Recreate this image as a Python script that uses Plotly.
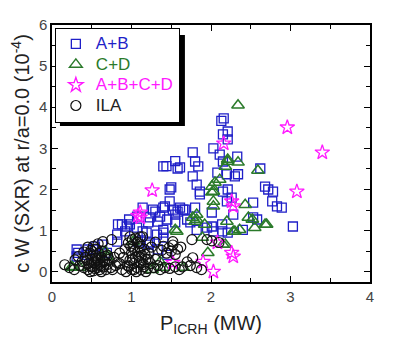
import plotly.graph_objects as go

# A+B (blue squares)
ab_x = [2.13, 2.16, 2.21, 2.15, 2.21, 2.03, 2.11, 2.33, 1.77, 1.80, 1.84, 1.61, 2.15, 2.30, 2.62, 2.08,
        1.77, 1.44, 1.55, 1.58, 1.50, 1.82, 1.86, 2.68, 2.72, 2.78, 2.21, 2.20, 2.34, 2.77, 2.83, 2.89,
        3.03, 2.26, 2.28, 2.53, 2.53, 1.65, 1.80, 1.70, 1.82, 2.01, 2.01, 2.03, 2.14, 2.14, 2.21, 2.40,
        2.58, 2.15, 2.20, 1.40, 1.14, 1.27, 1.42, 1.48, 1.61, 1.55, 1.36, 1.23, 1.07, 0.97, 0.83, 0.94,
        0.82, 0.82, 0.69, 0.52, 0.31, 0.31, 1.08, 1.21, 1.32, 1.40, 1.33, 1.45, 1.14, 1.67, 1.52, 1.58,
        1.40, 1.30, 1.21, 1.33, 1.45, 1.55, 1.74, 1.07, 1.40, 1.40, 1.19, 1.23, 1.95, 0.92, 0.88, 0.98,
        0.63, 0.54, 0.45, 0.33, 0.44, 1.86, 1.48]
ab_y = [3.67, 3.73, 3.41, 3.34, 3.22, 3.00, 2.85, 2.80, 2.90, 2.68, 2.56, 2.54, 2.68, 2.32, 2.51, 2.41,
        2.32, 2.57, 2.69, 2.51, 2.05, 2.12, 1.95, 2.07, 2.00, 1.95, 2.00, 2.37, 2.37, 1.71, 1.59, 1.56,
        1.10, 1.80, 1.39, 1.68, 1.32, 1.51, 1.56, 1.27, 1.02, 1.44, 1.10, 0.98, 1.15, 0.98, 0.95, 1.02,
        1.27, 1.95, 1.71, 2.56, 1.56, 1.51, 1.59, 1.71, 1.56, 1.39, 1.34, 1.32, 1.34, 1.27, 1.15, 1.10,
        0.90, 0.73, 0.46, 0.54, 0.54, 0.37, 0.73, 0.66, 0.90, 1.02, 0.54, 0.41, 0.98, 1.51, 1.51, 1.46,
        1.56, 1.46, 1.20, 1.22, 1.27, 1.20, 1.20, 1.07, 0.95, 0.83, 0.95, 0.71, 1.07, 0.98, 1.15, 1.15,
        0.66, 0.61, 0.54, 0.46, 0.41, 1.88, 2.00]

# C+D (green triangles)
cd_x = [2.34, 2.21, 2.34, 2.59, 2.21, 2.18, 2.11, 2.05, 2.01, 2.03, 2.01, 2.03, 2.03, 1.82, 1.80,
        2.43, 2.20, 2.47, 2.55, 2.70, 2.36, 2.28, 1.89, 2.15, 1.96, 1.65, 2.52, 2.30, 2.18, 1.82,
        1.57, 1.92, 1.40, 1.26, 1.55, 1.02, 0.69, 0.25, 0.35, 1.36, 1.77, 0.67, 0.26, 2.68]
cd_y = [4.05, 2.68, 2.66, 2.46, 2.73, 2.56, 2.24, 2.17, 2.07, 1.95, 1.93, 1.71, 1.59, 1.27, 1.22,
        1.63, 1.22, 1.32, 1.07, 1.15, 1.02, 0.98, 0.83, 0.66, 0.46, 0.10, 1.27, 0.98, 0.66, 1.39,
        0.98, 1.15, 0.10, 0.05, 1.02, 0.73, 0.37, 0.12, 0.10, 0.24, 1.32, 0.49, 0.10, 1.15]

# A+B+C+D (magenta stars)
all_x = [2.96, 3.40, 2.16, 3.08, 2.26, 2.28, 2.08, 2.26, 2.28, 1.90, 2.03, 1.26, 1.11, 1.08, 1.11, 1.52]
all_y = [3.51, 2.90, 3.12, 1.95, 1.71, 1.59, 0.71, 0.46, 0.37, 0.24, 0.00, 1.98, 1.44, 1.36, 1.32, 0.22]

# ILA (black circles)
ila_x = [0.38, 0.40, 0.42, 0.45, 0.46, 0.48, 0.50, 0.50, 0.52, 0.53, 0.55, 0.55, 0.57, 0.58, 0.60, 0.60,
         0.62, 0.63, 0.65, 0.66, 0.68, 0.70, 0.70, 0.72, 0.74, 0.45, 0.52, 0.40, 0.35, 0.58, 0.62, 0.48,
         0.85, 0.88, 0.90, 0.92, 0.95, 0.96, 0.98, 1.00, 1.00, 1.02, 1.03, 1.05, 1.05, 1.07, 1.08, 1.10,
         1.10, 1.12, 1.13, 1.15, 1.16, 1.18, 1.20, 1.22, 1.24, 0.98, 1.14, 0.93, 1.06, 1.18,
         0.76, 0.80, 0.82, 0.78, 0.85, 0.16, 0.22, 0.29, 0.28, 0.33, 0.64, 0.75, 1.01, 1.11,
         1.28, 1.33, 1.36, 1.42, 1.48, 1.55, 1.60, 1.64, 1.70, 1.74, 1.77, 1.82, 1.88, 1.30,
         1.38, 1.40, 1.44, 1.47, 1.50, 1.52, 1.55, 1.58, 1.62, 1.52, 1.76, 1.95, 2.01, 2.10, 1.25, 1.30,
         0.47, 0.51, 0.56, 0.59, 0.64, 0.67, 0.54, 0.61, 0.49, 0.57, 0.44,
         0.97, 1.01, 1.04, 1.09, 1.12, 1.17, 1.21, 0.99, 1.07, 1.15, 1.03, 1.11]
ila_y = [0.25, 0.10, 0.35, 0.05, 0.20, 0.45, 0.12, 0.30, 0.02, 0.22, 0.40, 0.55, 0.10, 0.28, 0.05, 0.18,
         0.35, 0.50, 0.12, 0.25, 0.05, 0.18, 0.40, 0.30, 0.10, 0.60, 0.62, 0.48, 0.15, 0.68, 0.00, 0.00,
         0.20, 0.05, 0.35, 0.55, 0.15, 0.70, 0.28, 0.05, 0.45, 0.60, 0.20, 0.82, 0.35, 0.10, 0.50, 0.25,
         0.68, 0.05, 0.40, 0.18, 0.55, 0.30, 0.08, 0.45, 0.20, 0.85, 0.85, 0.00, 0.00, 0.00,
         0.05, 0.15, 0.22, 0.35, 0.45, 0.17, 0.10, 0.29, 0.05, 0.37, 0.73, 0.78, 0.78, 0.85,
         0.10, 0.15, 0.05, 0.10, 0.08, 0.12, 0.05, 0.12, 0.24, 0.15, 0.34, 0.10, 0.05, 0.30,
         0.52, 0.62, 0.45, 0.58, 0.50, 0.65, 0.42, 0.55, 0.60, 0.73, 0.78, 0.78, 0.75, 0.71, 0.60, 0.72,
         0.15, 0.38, 0.20, 0.45, 0.28, 0.38, 0.08, 0.14, 0.52, 0.33, 0.28,
         0.12, 0.30, 0.52, 0.38, 0.22, 0.42, 0.30, 0.62, 0.72, 0.12, 0.05, 0.58]

BLUE = "#1f1fc8"
GREEN = "#2a7a2a"
MAGENTA = "#ff1aff"
BLACK = "#111111"

def lbl(text, color):
    return f"<span style='color:{color};font-size:17px'>{text}</span>"

fig = go.Figure()
fig.add_trace(go.Scatter(x=ab_x, y=ab_y, mode="markers", name=lbl("A+B", BLUE),
                         marker=dict(symbol="square-open", size=9, color=BLUE, line=dict(width=1.3))))
fig.add_trace(go.Scatter(x=cd_x, y=cd_y, mode="markers", name=lbl("C+D", GREEN),
                         marker=dict(symbol="triangle-up-open", size=11, color=GREEN, line=dict(width=1.5))))
fig.add_trace(go.Scatter(x=all_x, y=all_y, mode="markers", name=lbl("A+B+C+D", MAGENTA),
                         marker=dict(symbol="star-open", size=11, color=MAGENTA, line=dict(width=1.3))))
fig.add_trace(go.Scatter(x=ila_x, y=ila_y, mode="markers", name=lbl("ILA", "#222222"),
                         marker=dict(symbol="circle-open", size=10, color=BLACK, line=dict(width=1.2))))

axis_common = dict(showgrid=False, zeroline=False, showline=True, linecolor="black", linewidth=1.5,
                   mirror="allticks", ticks="inside", ticklen=6, tickwidth=1, tickcolor="black",
                   tickfont=dict(family="Liberation Sans, Arial", size=15, color="#444444"),
                   minor=dict(ticks="inside", ticklen=4, tickwidth=1, tickcolor="black", dtick=0.5))

fig.update_xaxes(range=[0, 4], dtick=1, **axis_common,
                 title=dict(text="P<sub>ICRH</sub> (MW)", standoff=12,
                            font=dict(family="Liberation Sans, Arial", size=20, color="#222222")))
fig.update_yaxes(range=[-0.25, 6], dtick=1, **axis_common,
                 title=dict(text="c W (SXR) at r/a=0.0 (10<sup>-4</sup>)", standoff=4,
                            font=dict(family="Liberation Sans, Arial", size=20, color="#222222")))

# legend drop shadow
fig.add_shape(type="rect", xref="paper", yref="paper", x0=0.025, x1=0.418, y0=0.607, y1=0.961,
              fillcolor="black", line=dict(width=0), layer="below")

fig.update_layout(
    width=393, height=344,
    margin=dict(l=52, r=23, t=25, b=62),
    plot_bgcolor="white", paper_bgcolor="white",
    showlegend=True,
    legend=dict(x=0.009, y=0.99, xanchor="left", yanchor="top", bgcolor="white",
                bordercolor="black", borderwidth=1,
                font=dict(family="Liberation Sans, Arial", size=13.5, color="black"),
                tracegroupgap=0, itemsizing="trace"),
)

fig.write_html("out.html")
